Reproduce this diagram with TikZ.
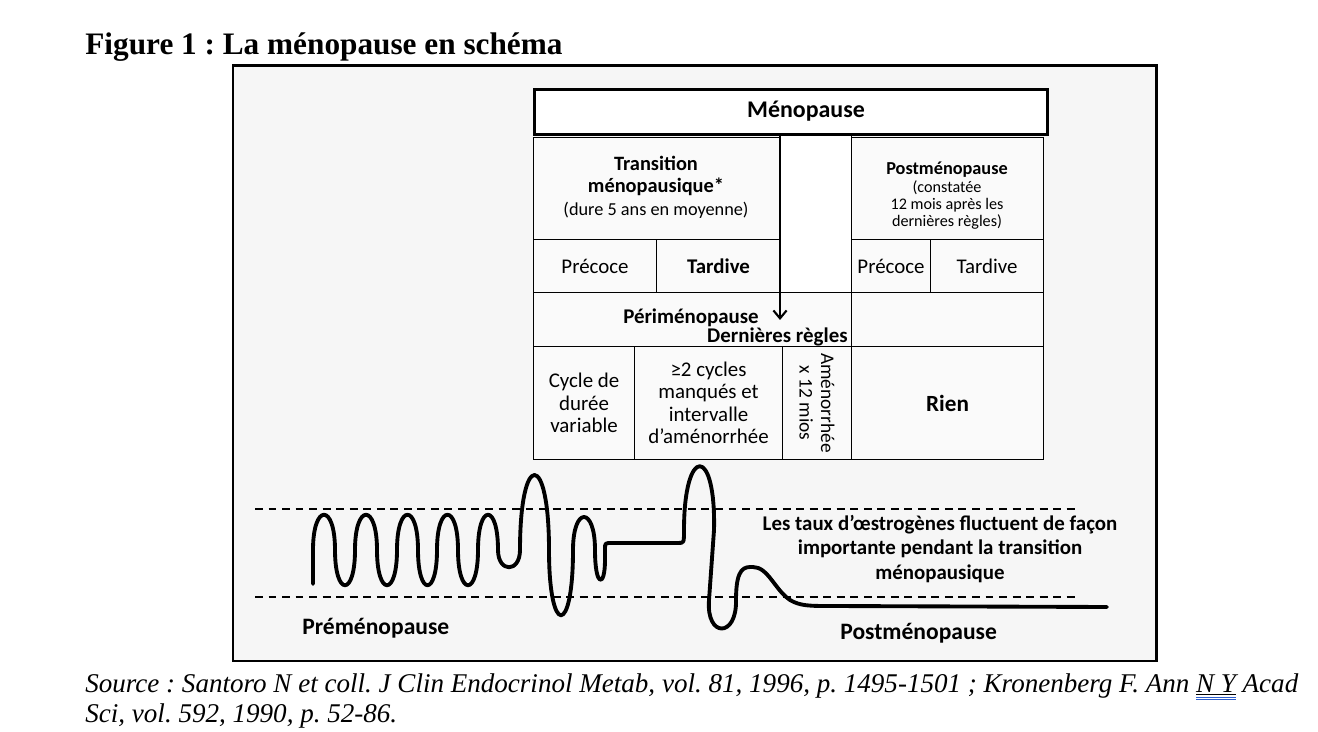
\documentclass[tikz,border=0pt]{standalone}
\usepackage{fontspec}
\setmainfont{Carlito}
\newfontfamily\titrefont{Liberation Serif}
\usetikzlibrary{arrows.meta}

\definecolor{fondgris}{RGB}{246,246,246}
\definecolor{cellgris}{RGB}{250,250,250}
\definecolor{soulbleu}{RGB}{45,95,205}

\frenchspacing
\newcommand{\fs}[2]{\fontsize{#1}{#2}\selectfont}
\newcommand{\fsb}[1]{\fontsize{#1}{\fpeval{#1*1.08}}\selectfont}
\newsavebox{\nybox}
\newcommand{\soulign}[1]{\sbox{\nybox}{#1}%
  \rlap{\rule[-1.8pt]{\wd\nybox}{0.5pt}}%
  \rlap{\color{soulbleu}\rule[-3.2pt]{\wd\nybox}{0.6pt}}%
  \rlap{\color{soulbleu}\rule[-4.6pt]{\wd\nybox}{0.6pt}}\usebox{\nybox}}

\begin{document}
\begin{tikzpicture}[x=0.02cm, y=-0.02cm,
    cadre/.style={draw, line width=1.7pt, fill=fondgris},
    cell/.style 2 args={draw, line width=0.6pt, fill=cellgris, anchor=north west,
                        inner sep=0pt, minimum width=#1*0.02cm,
                        minimum height=#2*0.02cm, align=center},
    txt/.style={inner sep=0pt, align=center, font=\fs{11.9}{12.8}},
    gras/.style={inner sep=0pt, align=center, font=\bfseries\fsb{#1}},
    fleche/.style={line width=1.6pt, -{Straight Barb[length=4.5pt, width=7.5pt, line width=1.2pt]}},
    seuil/.style={line width=0.6pt, dash pattern=on 4.5pt off 3.2pt},
    onde/.style={line width=2.2pt, line join=round, line cap=round}
  ]
  \useasboundingbox (0,0) rectangle (1318,732);

  % titre
  \node[anchor=base west, inner sep=0pt, font=\titrefont\bfseries\fs{17.8}{20}]
    (titre) at (85,55) {Figure 1 : La ménopause en schéma};

  \draw[cadre] (233,66) rectangle (1156,661);

  % tableau
  \node[cell={71}{159}, fill=white] (gap) at (780,133) {};
  \node[cell={247}{102}] (trans) at (533,137) {};
  \node[gras=11.6] (translbl) at (656,176) {Transition\\ménopausique*};
  \node[txt, font=\fs{10.4}{12}] (dure) at (656,210) {(dure 5 ans en moyenne)};
  \node[cell={192}{102}] (post) at (851,137) {};
  \node[gras=10.4] (postlbl) at (947,170) {Postménopause};
  \node[txt, font=\fs{9.2}{9.8}] (constat) at (947,205)
    {(constatée\\12 mois après les\\dernières règles)};
  \node[cell={123}{53}, font=\fs{11.9}{13}] (preA) at (533,239) {Précoce};
  \node[cell={124}{53}, font=\bfseries\fs{11.9}{13}] (tardA) at (656,239) {Tardive};
  \node[cell={79}{53}, font=\fs{11.9}{13}] (preB) at (851,239) {Précoce};
  \node[cell={113}{53}, font=\fs{11.9}{13}] (tardB) at (930,239) {Tardive};
  \node[cell={318}{54}] (peri) at (533,292) {};
  \node[cell={192}{54}] (vide) at (851,292) {};
  \node[cell={101}{113}, font=\fs{11.9}{12.8}] (cycle) at (533,346)
    {Cycle de\\durée\\variable};
  \node[cell={148}{113}, font=\fs{11.9}{12.8}] (manque) at (634,346)
    {≥2 cycles\\manqués et\\intervalle\\d’aménorrhée};
  \node[cell={69}{113}] (amen) at (782,346) {};
  \node[txt, rotate=-90, font=\fs{11}{12.2}] (amenlbl) at (amen.center)
    {Aménorrhée\\x 12 mios};
  \node[cell={192}{113}, font=\bfseries\fs{13.2}{14}] (rien) at (851,346) {Rien};

  \node[draw, line width=1.7pt, fill=white, anchor=north west, inner sep=0pt,
        minimum width=513*0.02cm, minimum height=45*0.02cm] (meno) at (533,88) {};
  \node[gras=13.6] (menolbl) at (806,111) {Ménopause};

  \node[gras=11.9] (perilbl) at (691,318) {Périménopause};
  \node[gras=11.9, anchor=east] (regleslbl) at (848,337) {Dernières règles};

  \coordinate (regles) at (780,320);
  \draw[fleche] (meno.south -| gap.west) -- (regles);

  % oestrogenes
  \draw[seuil] (255,509) -- (1080,509);
  \draw[seuil] (255,597) -- (1080,597);

  \draw[onde] (313,584) -- (313,550)
    .. controls (313,503) and (335,503) .. (335,550)
    .. controls (335,597) and (355,597) .. (355,550)
    .. controls (355,503) and (377,503) .. (377,550)
    .. controls (377,597) and (397,597) .. (397,550)
    .. controls (397,503) and (418,503) .. (418,550)
    .. controls (418,597) and (437,597) .. (437,550)
    .. controls (437,503) and (458,503) .. (458,550)
    .. controls (458,597) and (478,597) .. (478,550)
    .. controls (478,503) and (498,503) .. (498,550)
    .. controls (498,573) and (520,573) .. (520,550)
    .. controls (520,450) and (549,450) .. (549,550)
    .. controls (549,637) and (573,637) .. (573,550)
    .. controls (573,506) and (595,506) .. (595,550)
    .. controls (595,588) and (605,588) .. (605,560)
    -- (605,549) .. controls (605,543) .. (612,543)
    -- (678,543) .. controls (684,543) .. (684,530)
    .. controls (684,445) and (716,445) .. (714,530)
    -- (709,600)
    .. controls (706,638) and (737,638) .. (736,600)
    .. controls (736,566) and (745,567) .. (753,567)
    .. controls (768,567) and (775,590) .. (790,600)
    .. controls (800,606) and (810,606) .. (830,606)
    -- (1107,607);

  \node[gras=11.9, font=\bfseries\fs{11.9}{14.2}] (legende) at (940,549)
    {Les taux d’œstrogènes fluctuent de façon\\importante pendant la transition\\ménopausique};
  \node[gras=13.4, anchor=base west] (premeno) at (302,634) {Préménopause};
  \node[gras=13.4, anchor=base west] (postmeno) at (840,640) {Postménopause};

  % source
  \node[anchor=base west, inner sep=0pt, font=\titrefont\itshape\fs{15.4}{17}]
    (sourceA) at (85,692)
    {Source : Santoro N et coll. J Clin Endocrinol Metab, vol. 81, 1996, p. 1495-1501 ; Kronenberg F. Ann \soulign{N Y} Acad};
  \node[anchor=base west, inner sep=0pt, font=\titrefont\itshape\fs{15.4}{17}]
    (sourceB) at (85,722) {Sci, vol. 592, 1990, p. 52-86.};
\end{tikzpicture}
\end{document}
